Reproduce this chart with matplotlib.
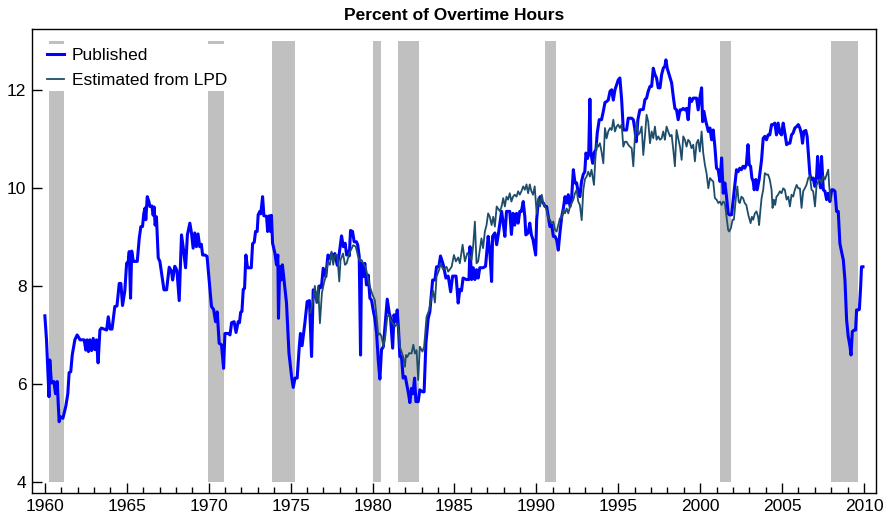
import matplotlib
matplotlib.use("Agg")
import matplotlib.pyplot as plt
from matplotlib.ticker import MultipleLocator

plt.rcParams['font.family'] = ['Liberation Sans', 'DejaVu Sans']

# NBER recessions (start, end) in fractional years
rec_start = [1960.25, 1969.95, 1973.88, 1980.00, 1981.55, 1990.52, 2001.21, 2007.99]
rec_end = [1961.16, 1970.91, 1975.24, 1980.49, 1982.81, 1991.18, 2001.86, 2009.61]

# published overtime share (year, percent)
published = [
    (1960.00, 7.39), (1960.10, 6.90), (1960.25, 5.74), (1960.30, 6.49), (1960.40, 6.02), (1960.55, 6.05),
    (1960.65, 5.80), (1960.75, 6.05), (1960.87, 5.23), (1960.95, 5.33),
    (1961.10, 5.30), (1961.28, 5.55), (1961.40, 5.80), (1961.48, 6.23), (1961.58, 6.25), (1961.67, 6.59),
    (1961.83, 6.90), (1961.97, 7.00),
    (1962.15, 6.90), (1962.40, 6.90), (1962.50, 6.69), (1962.58, 6.90), (1962.66, 6.66), (1962.75, 6.90),
    (1962.85, 6.68), (1962.95, 6.93),
    (1963.05, 6.70), (1963.15, 6.90), (1963.25, 6.43), (1963.36, 7.10), (1963.45, 7.14), (1963.77, 7.10),
    (1963.87, 7.37), (1963.98, 7.12),
    (1964.10, 7.12), (1964.27, 7.58), (1964.40, 7.59), (1964.54, 8.05), (1964.64, 8.05), (1964.74, 7.60),
    (1964.88, 7.90), (1964.99, 8.46),
    (1965.09, 8.50), (1965.15, 8.70), (1965.23, 7.75), (1965.30, 8.71), (1965.40, 8.50), (1965.64, 8.50),
    (1965.76, 8.97), (1965.86, 9.21), (1965.96, 9.21),
    (1966.04, 9.48), (1966.12, 9.59), (1966.16, 9.35), (1966.25, 9.82), (1966.35, 9.72), (1966.41, 9.62),
    (1966.53, 9.63), (1966.61, 9.44), (1966.67, 9.61), (1966.73, 9.24), (1966.81, 9.41), (1966.92, 8.57),
    (1967.02, 8.50), (1967.27, 7.92), (1967.43, 7.92), (1967.59, 8.38), (1967.73, 8.30), (1967.80, 8.12),
    (1967.93, 8.40),
    (1968.06, 8.32), (1968.20, 7.70), (1968.34, 9.04), (1968.44, 8.80), (1968.59, 8.37), (1968.70, 9.04),
    (1968.85, 9.28), (1968.95, 9.08),
    (1969.05, 8.77), (1969.15, 9.08), (1969.25, 8.80), (1969.35, 9.06), (1969.45, 8.80), (1969.55, 8.85),
    (1969.63, 8.63), (1969.77, 8.63), (1969.90, 8.60),
    (1970.03, 8.12), (1970.17, 7.58), (1970.30, 7.52), (1970.42, 7.27), (1970.52, 7.47), (1970.64, 6.83),
    (1970.78, 6.80), (1970.91, 6.32), (1970.99, 7.03),
    (1971.20, 7.03), (1971.30, 7.00), (1971.40, 7.25), (1971.55, 7.27), (1971.67, 7.05), (1971.80, 7.27),
    (1971.88, 7.25), (1971.95, 7.46),
    (1972.03, 7.48), (1972.11, 7.93), (1972.19, 7.95), (1972.27, 8.63), (1972.37, 8.37), (1972.60, 8.37),
    (1972.68, 8.86), (1972.78, 8.89), (1972.86, 9.11), (1972.96, 9.11),
    (1973.02, 9.45), (1973.12, 9.52), (1973.18, 9.47), (1973.29, 9.82), (1973.37, 9.43), (1973.53, 9.42),
    (1973.60, 9.11), (1973.70, 9.43), (1973.77, 9.11), (1973.83, 9.44), (1973.90, 8.87),
    (1974.04, 8.67), (1974.14, 8.43), (1974.22, 8.63), (1974.26, 7.34), (1974.34, 8.40), (1974.42, 8.12),
    (1974.50, 8.43), (1974.60, 8.12), (1974.75, 7.65), (1974.90, 6.63),
    (1975.06, 6.15), (1975.16, 5.93), (1975.27, 6.12), (1975.40, 6.12), (1975.53, 6.76), (1975.60, 7.03),
    (1975.70, 6.78), (1975.87, 7.24),
    (1976.01, 7.68), (1976.15, 7.70), (1976.28, 6.56), (1976.38, 7.92), (1976.48, 7.89), (1976.62, 7.67),
    (1976.75, 8.00), (1976.88, 7.97), (1976.99, 8.36),
    (1977.15, 8.19), (1977.28, 8.63), (1977.40, 8.56), (1977.50, 8.66), (1977.60, 8.54), (1977.70, 8.66),
    (1977.85, 8.42), (1977.97, 8.66),
    (1978.11, 9.02), (1978.22, 8.80), (1978.33, 8.87), (1978.42, 8.63), (1978.52, 8.70), (1978.58, 8.61),
    (1978.66, 9.13), (1978.78, 9.11), (1978.88, 8.90),
    (1979.02, 8.90), (1979.10, 8.83), (1979.19, 8.60), (1979.27, 6.59), (1979.33, 8.46), (1979.43, 8.19),
    (1979.53, 8.46), (1979.63, 8.02), (1979.74, 8.22), (1979.84, 7.75), (1979.94, 7.71),
    (1980.04, 7.51), (1980.14, 7.34), (1980.25, 7.03), (1980.35, 6.49), (1980.45, 6.10), (1980.55, 6.70),
    (1980.66, 6.76), (1980.78, 7.24), (1980.90, 7.73),
    (1981.02, 7.45), (1981.10, 7.35), (1981.23, 6.73), (1981.31, 7.41), (1981.41, 7.27), (1981.51, 7.51),
    (1981.59, 7.10), (1981.67, 6.56), (1981.77, 6.56), (1981.87, 6.12),
    (1982.00, 6.15), (1982.12, 5.94), (1982.20, 5.80), (1982.28, 5.62), (1982.38, 5.91), (1982.47, 5.80),
    (1982.57, 6.12), (1982.65, 5.64), (1982.79, 5.64), (1982.89, 5.88),
    (1983.05, 5.84), (1983.15, 5.84), (1983.26, 6.83), (1983.40, 7.34), (1983.50, 7.47), (1983.67, 8.12),
    (1983.81, 8.12), (1983.91, 8.39),
    (1984.05, 8.39), (1984.15, 8.61), (1984.32, 8.43), (1984.48, 8.16), (1984.62, 8.20), (1984.77, 7.88),
    (1984.89, 8.20),
    (1985.10, 8.20), (1985.23, 7.65), (1985.33, 7.93), (1985.43, 7.90), (1985.53, 8.16), (1985.73, 8.13),
    (1985.89, 8.13), (1985.95, 8.80),
    (1986.05, 8.13), (1986.15, 8.37), (1986.25, 8.13), (1986.35, 8.33), (1986.45, 8.16), (1986.55, 8.37),
    (1986.75, 8.37), (1986.90, 8.40),
    (1987.06, 9.01), (1987.16, 8.71), (1987.27, 8.09), (1987.33, 9.01), (1987.47, 9.08), (1987.58, 8.84),
    (1987.68, 9.05), (1987.78, 9.28), (1987.88, 9.52), (1987.98, 9.28),
    (1988.08, 9.01), (1988.18, 9.52), (1988.38, 9.52), (1988.48, 9.05), (1988.58, 9.48), (1988.68, 9.24),
    (1988.79, 9.48), (1988.89, 9.28), (1988.99, 9.52),
    (1989.09, 9.52), (1989.20, 9.72), (1989.30, 9.41), (1989.36, 9.04), (1989.50, 9.08), (1989.60, 9.28),
    (1989.70, 9.04), (1989.80, 8.94), (1989.96, 8.63),
    (1990.02, 9.35), (1990.12, 9.72), (1990.23, 9.82), (1990.33, 9.72), (1990.43, 9.69), (1990.53, 9.62),
    (1990.63, 9.62), (1990.73, 9.41), (1990.83, 9.21), (1990.94, 9.24),
    (1991.04, 9.01), (1991.14, 9.01), (1991.24, 8.94), (1991.34, 8.73), (1991.44, 9.08), (1991.55, 9.41),
    (1991.65, 9.58), (1991.75, 9.82), (1991.85, 9.69), (1991.95, 9.86),
    (1992.06, 9.62), (1992.16, 9.82), (1992.26, 10.37), (1992.36, 10.10), (1992.46, 10.10), (1992.56, 9.90),
    (1992.66, 9.82), (1992.76, 10.13), (1992.86, 10.27), (1992.96, 10.33),
    (1993.03, 10.71), (1993.13, 10.60), (1993.20, 10.71), (1993.27, 11.81), (1993.33, 10.71), (1993.44, 10.50),
    (1993.52, 10.71), (1993.64, 10.78), (1993.72, 11.12), (1993.84, 11.39), (1993.98, 11.39),
    (1994.09, 11.56), (1994.19, 11.74), (1994.29, 11.76), (1994.39, 11.79), (1994.50, 11.97), (1994.60, 12.00),
    (1994.70, 11.79), (1994.80, 12.00), (1994.90, 12.10),
    (1995.00, 12.20), (1995.10, 12.24), (1995.21, 11.79), (1995.31, 11.18), (1995.41, 11.18), (1995.51, 11.18),
    (1995.61, 11.42), (1995.82, 11.42), (1995.92, 11.39),
    (1996.02, 11.18), (1996.10, 10.94), (1996.20, 11.39), (1996.32, 11.59), (1996.53, 11.60), (1996.63, 11.80),
    (1996.73, 11.83), (1996.83, 11.97), (1996.94, 12.07),
    (1997.04, 12.07), (1997.14, 12.44), (1997.24, 12.31), (1997.34, 12.24), (1997.44, 12.04), (1997.55, 12.04),
    (1997.65, 12.31), (1997.75, 12.44), (1997.85, 12.48), (1997.91, 12.61), (1997.99, 12.44),
    (1998.11, 12.31), (1998.26, 12.14), (1998.36, 11.86), (1998.46, 11.62), (1998.56, 11.59), (1998.66, 11.39),
    (1998.77, 11.59), (1998.87, 11.59), (1998.97, 11.62),
    (1999.07, 11.59), (1999.17, 11.62), (1999.27, 11.39), (1999.37, 11.83), (1999.47, 11.76), (1999.58, 11.83),
    (1999.68, 11.83), (1999.78, 11.83), (1999.88, 11.59), (1999.98, 11.83),
    (2000.09, 12.04), (2000.15, 11.35), (2000.23, 11.56), (2000.35, 11.35), (2000.43, 11.25), (2000.50, 11.15),
    (2000.60, 11.22), (2000.70, 10.98), (2000.80, 11.18), (2000.90, 10.84),
    (2001.00, 10.40), (2001.10, 10.37), (2001.21, 10.13), (2001.31, 10.61), (2001.41, 9.89), (2001.51, 10.10),
    (2001.61, 9.82), (2001.71, 9.48), (2001.78, 9.45), (2001.92, 9.45),
    (2002.00, 9.69), (2002.12, 10.06), (2002.22, 10.37), (2002.32, 10.33), (2002.42, 10.40), (2002.52, 10.37),
    (2002.62, 10.44), (2002.72, 10.40), (2002.82, 10.47), (2002.92, 10.88),
    (2003.00, 10.47), (2003.08, 10.44), (2003.16, 10.20), (2003.24, 10.13), (2003.30, 9.96), (2003.40, 10.17),
    (2003.48, 9.96), (2003.60, 10.17), (2003.75, 10.57), (2003.85, 11.01), (2003.95, 11.05),
    (2004.05, 10.98), (2004.15, 11.08), (2004.25, 11.08), (2004.36, 11.29), (2004.46, 11.29), (2004.56, 11.32),
    (2004.66, 11.08), (2004.76, 11.32), (2004.87, 11.12), (2004.97, 11.08),
    (2005.07, 11.32), (2005.17, 11.12), (2005.28, 10.88), (2005.38, 10.91), (2005.48, 10.91), (2005.58, 11.08),
    (2005.68, 11.12), (2005.78, 11.22), (2005.89, 11.25), (2005.99, 11.29),
    (2006.09, 11.22), (2006.19, 11.08), (2006.25, 10.91), (2006.33, 11.15), (2006.45, 11.17), (2006.53, 11.05),
    (2006.60, 10.74), (2006.70, 10.27), (2006.80, 10.17), (2006.90, 10.20),
    (2007.00, 10.03), (2007.11, 10.24), (2007.17, 10.64), (2007.25, 10.24), (2007.35, 10.00), (2007.41, 10.64),
    (2007.52, 9.96), (2007.62, 9.93), (2007.72, 9.76), (2007.82, 9.89), (2007.92, 9.72),
    (2008.03, 9.96), (2008.13, 9.96), (2008.23, 9.93), (2008.33, 9.52), (2008.43, 9.52), (2008.53, 8.87),
    (2008.63, 8.70), (2008.74, 8.53), (2008.84, 8.12), (2008.94, 7.31),
    (2009.04, 6.97), (2009.15, 6.76), (2009.21, 6.59), (2009.29, 7.07), (2009.41, 7.10), (2009.49, 7.10),
    (2009.55, 7.51), (2009.65, 7.51), (2009.72, 7.52), (2009.80, 7.99), (2009.85, 8.39), (2009.94, 8.39),
]

# estimate built from LPD data (year, percent)
estimated = [
    (1976.20, 7.45), (1976.38, 7.70), (1976.48, 8.00), (1976.58, 7.65), (1976.68, 7.99), (1976.79, 7.24),
    (1976.91, 7.85),
    (1977.03, 8.05), (1977.15, 8.20), (1977.28, 8.50), (1977.40, 8.43), (1977.50, 8.70), (1977.60, 8.43),
    (1977.70, 8.63), (1977.85, 8.63), (1977.97, 8.09),
    (1978.05, 8.53), (1978.20, 8.66), (1978.32, 8.43), (1978.42, 8.46), (1978.58, 8.66), (1978.72, 8.76),
    (1978.82, 8.83), (1978.98, 8.80),
    (1979.12, 8.60), (1979.23, 8.50), (1979.33, 8.53), (1979.43, 8.46), (1979.60, 8.36), (1979.74, 8.12),
    (1979.84, 7.99),
    (1980.00, 7.82), (1980.14, 7.71), (1980.25, 7.37), (1980.35, 7.00), (1980.45, 7.03), (1980.55, 6.97),
    (1980.66, 6.76), (1980.78, 6.97), (1980.90, 7.37),
    (1981.02, 7.41), (1981.10, 7.31), (1981.23, 7.24), (1981.37, 7.17), (1981.51, 7.24), (1981.59, 7.10),
    (1981.67, 6.76), (1981.77, 6.66), (1981.87, 6.55), (1981.98, 6.35),
    (1982.04, 6.59), (1982.12, 6.55), (1982.24, 6.63), (1982.38, 6.62), (1982.49, 6.80), (1982.59, 6.62),
    (1982.69, 6.69), (1982.79, 6.08), (1982.89, 6.76),
    (1983.05, 6.66), (1983.15, 6.76), (1983.30, 7.37), (1983.46, 7.51), (1983.60, 7.78), (1983.70, 7.90),
    (1983.81, 7.66), (1983.91, 8.19),
    (1984.07, 8.33), (1984.15, 8.46), (1984.32, 8.33), (1984.52, 8.39), (1984.62, 8.29), (1984.83, 8.39),
    (1984.97, 8.63),
    (1985.09, 8.50), (1985.23, 8.58), (1985.33, 8.46), (1985.50, 8.84), (1985.64, 8.50), (1985.79, 8.67),
    (1985.89, 8.63),
    (1986.05, 8.53), (1986.15, 8.84), (1986.25, 9.31), (1986.35, 8.46), (1986.45, 8.50), (1986.55, 8.74),
    (1986.65, 8.97), (1986.75, 8.77), (1986.86, 9.11), (1986.96, 9.24),
    (1987.06, 9.48), (1987.16, 9.41), (1987.27, 9.24), (1987.37, 9.41), (1987.47, 9.21), (1987.58, 9.62),
    (1987.68, 9.57), (1987.78, 9.52), (1987.88, 9.62), (1987.98, 9.79),
    (1988.08, 9.62), (1988.18, 9.82), (1988.28, 9.76), (1988.38, 9.89), (1988.48, 9.72), (1988.58, 9.82),
    (1988.68, 9.86), (1988.79, 9.82), (1988.89, 9.93), (1988.99, 9.86),
    (1989.09, 9.93), (1989.20, 10.03), (1989.30, 9.96), (1989.40, 10.07), (1989.50, 9.89), (1989.60, 10.07),
    (1989.70, 9.93), (1989.80, 9.86), (1989.90, 10.03),
    (1990.02, 9.48), (1990.12, 9.79), (1990.23, 9.62), (1990.33, 9.86), (1990.43, 9.69), (1990.53, 9.62),
    (1990.63, 9.55), (1990.73, 9.38), (1990.83, 9.35), (1990.94, 9.28),
    (1991.04, 9.31), (1991.14, 9.14), (1991.24, 9.11), (1991.34, 9.24), (1991.44, 9.38), (1991.55, 9.38),
    (1991.65, 9.55), (1991.75, 9.48), (1991.85, 9.58), (1991.95, 9.48),
    (1992.06, 9.62), (1992.16, 9.69), (1992.26, 9.76), (1992.36, 9.89), (1992.46, 9.96), (1992.56, 9.72),
    (1992.66, 9.65), (1992.77, 9.34), (1992.87, 9.96), (1992.97, 10.18),
    (1993.07, 10.23), (1993.17, 10.33), (1993.27, 10.23), (1993.37, 10.37), (1993.52, 10.06), (1993.60, 10.57),
    (1993.68, 10.91), (1993.78, 10.84), (1993.88, 10.91), (1993.98, 10.74),
    (1994.09, 10.50), (1994.19, 11.22), (1994.29, 11.01), (1994.39, 11.15), (1994.50, 11.22), (1994.60, 11.18),
    (1994.70, 11.39), (1994.80, 11.15), (1994.90, 11.25),
    (1995.00, 11.29), (1995.10, 11.22), (1995.21, 11.29), (1995.31, 10.84), (1995.41, 10.94), (1995.51, 10.94),
    (1995.61, 10.88), (1995.71, 10.84), (1995.82, 10.81), (1995.92, 10.44),
    (1996.02, 11.05), (1996.12, 11.35), (1996.22, 11.08), (1996.32, 11.12), (1996.43, 11.25), (1996.53, 10.67),
    (1996.63, 11.05), (1996.73, 11.49), (1996.83, 11.35), (1996.94, 10.91),
    (1997.04, 11.15), (1997.14, 11.01), (1997.24, 11.25), (1997.34, 10.98), (1997.44, 11.05), (1997.55, 10.98),
    (1997.65, 11.01), (1997.75, 11.15), (1997.85, 10.98), (1997.95, 11.25),
    (1998.05, 11.15), (1998.16, 11.05), (1998.26, 11.08), (1998.36, 10.78), (1998.46, 10.44), (1998.56, 11.18),
    (1998.66, 11.01), (1998.77, 10.84), (1998.87, 10.57), (1998.97, 11.05),
    (1999.07, 10.98), (1999.17, 10.84), (1999.27, 10.98), (1999.37, 10.94), (1999.47, 10.81), (1999.58, 10.88),
    (1999.68, 10.54), (1999.78, 10.91), (1999.88, 10.98), (1999.98, 10.74),
    (2000.09, 11.15), (2000.19, 10.71), (2000.29, 10.47), (2000.39, 10.30), (2000.50, 9.99), (2000.60, 10.20),
    (2000.70, 10.16), (2000.80, 10.13), (2000.90, 9.79),
    (2001.00, 9.76), (2001.11, 9.69), (2001.21, 9.72), (2001.31, 9.65), (2001.41, 9.72), (2001.51, 9.69),
    (2001.61, 9.41), (2001.71, 9.14), (2001.78, 9.11), (2001.88, 9.18), (2001.98, 9.35),
    (2002.06, 9.35), (2002.18, 9.79), (2002.27, 10.03), (2002.35, 9.72), (2002.42, 9.69), (2002.52, 9.82),
    (2002.62, 9.79), (2002.72, 9.69), (2002.82, 9.65), (2002.94, 9.45),
    (2003.02, 9.35), (2003.08, 9.28), (2003.16, 9.41), (2003.24, 9.35), (2003.34, 9.48), (2003.44, 9.52),
    (2003.54, 9.41), (2003.60, 9.24), (2003.68, 9.55), (2003.75, 9.79), (2003.85, 9.96), (2003.95, 10.30),
    (2004.05, 10.27), (2004.15, 10.27), (2004.25, 10.17), (2004.36, 9.96), (2004.42, 9.59), (2004.50, 9.76),
    (2004.58, 9.65), (2004.66, 9.82), (2004.76, 9.86), (2004.87, 9.93), (2004.97, 9.89),
    (2005.07, 9.99), (2005.17, 9.96), (2005.28, 9.76), (2005.38, 9.82), (2005.48, 9.62), (2005.58, 9.86),
    (2005.68, 9.82), (2005.78, 9.96), (2005.89, 10.06), (2005.99, 9.99),
    (2006.09, 9.99), (2006.19, 9.59), (2006.29, 9.93), (2006.39, 9.99), (2006.49, 10.06), (2006.60, 10.20),
    (2006.70, 10.24), (2006.80, 9.96), (2006.90, 9.93),
    (2007.01, 9.62), (2007.11, 10.06), (2007.21, 10.13), (2007.31, 10.17), (2007.41, 10.10), (2007.52, 10.24),
    (2007.62, 10.17), (2007.72, 10.27), (2007.82, 10.37), (2007.88, 10.03), (2007.97, 9.76),
]

pub_t, pub_v = zip(*published)
est_t, est_v = zip(*estimated)

fig = plt.figure(figsize=(8.87, 5.17), dpi=100)
ax = fig.add_axes([0.036, 0.0464, 0.9515, 0.8966])

# recession shading from 4 to 13
for s, e in zip(rec_start, rec_end):
    ax.bar(s, 9, width=e - s, bottom=4, align='edge', color='#c0c0c0', linewidth=0, zorder=1)

ax.plot(pub_t, pub_v, color='#0000ff', lw=2.2, label='Published', zorder=3)
ax.plot(est_t, est_v, color='#1e4d6b', lw=1.3, label='Estimated from LPD', zorder=4)

ax.set_xlim(1959.21, 2010.73)
ax.set_ylim(3.776, 13.23)
ax.xaxis.set_major_locator(MultipleLocator(5))
ax.xaxis.set_minor_locator(MultipleLocator(1))
ax.set_yticks([4, 6, 8, 10, 12])
ax.tick_params(axis='both', which='major', direction='in', length=7, width=1, labelsize=12.5, pad=4)
ax.tick_params(axis='x', which='minor', direction='in', length=4, width=1)
ax.tick_params(top=False, right=False)
for sp in ax.spines.values():
    sp.set_linewidth(1)

ax.set_title('Percent of Overtime Hours', fontsize=12.5, fontweight='bold', pad=7)

leg = ax.legend(loc='upper left', bbox_to_anchor=(0.0142, 0.968), fontsize=12.5,
                frameon=True, fancybox=False, edgecolor='none', facecolor='white', framealpha=1,
                handlelength=0.95, handletextpad=0.45, labelspacing=0.55, borderpad=0.2,
                borderaxespad=0)
leg.set_zorder(5)

fig.savefig('out.png', dpi=100)
